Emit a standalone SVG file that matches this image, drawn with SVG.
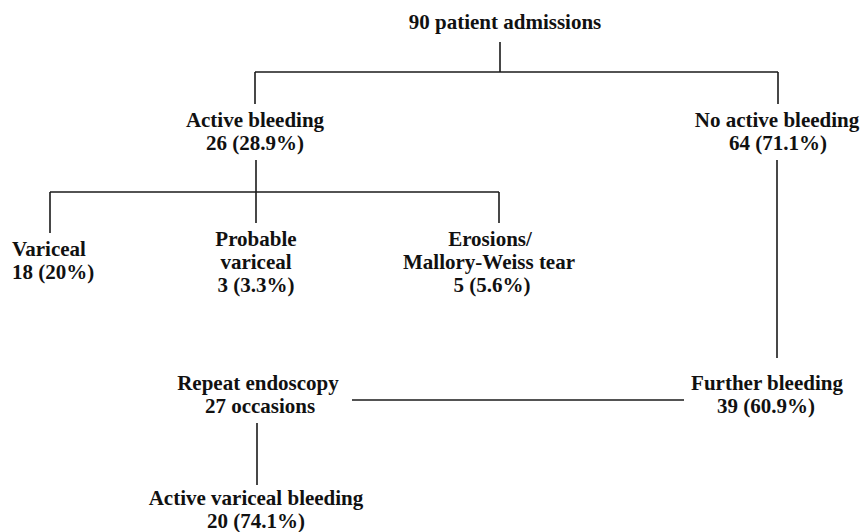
<svg xmlns="http://www.w3.org/2000/svg" width="865" height="532" viewBox="0 0 865 532">
<style>
text{font-family:"Liberation Serif","Times New Roman",serif;font-size:21px;font-weight:bold;fill:#111;text-anchor:middle}
.l{text-anchor:start}
#connectors line{stroke:#1a1a1a;stroke-width:1.6;fill:none}
</style>
<rect width="865" height="532" fill="#fff"/>
<g id="connectors">
<line x1="500" y1="42" x2="500" y2="72"/>
<line x1="255" y1="72" x2="778" y2="72"/>
<line x1="255" y1="72" x2="255" y2="104"/>
<line x1="778" y1="72" x2="778" y2="104"/>
<line x1="256" y1="160" x2="256" y2="223"/>
<line x1="50" y1="192" x2="499" y2="192"/>
<line x1="50" y1="192" x2="50" y2="233"/>
<line x1="499" y1="192" x2="499" y2="223"/>
<line x1="777" y1="160" x2="777" y2="358"/>
<line x1="352" y1="400" x2="684" y2="400"/>
<line x1="257" y1="423" x2="257" y2="485"/>
</g>
<g id="n-admissions"><text x="505" y="29">90 patient admissions</text></g>
<g id="n-active"><text x="255" y="127">Active bleeding</text><text x="255" y="150">26 (28.9%)</text></g>
<g id="n-noactive"><text x="777" y="127">No active bleeding</text><text x="778" y="150">64 (71.1%)</text></g>
<g id="n-variceal"><text class="l" x="12" y="256">Variceal</text><text class="l" x="12" y="279">18 (20%)</text></g>
<g id="n-probable"><text x="256" y="246">Probable</text><text x="256" y="269">variceal</text><text x="256" y="292">3 (3.3%)</text></g>
<g id="n-erosions"><text x="490" y="246">Erosions/</text><text x="489" y="269">Mallory-Weiss tear</text><text x="492" y="292">5 (5.6%)</text></g>
<g id="n-repeat"><text x="258" y="390">Repeat endoscopy</text><text x="260" y="413">27 occasions</text></g>
<g id="n-further"><text x="767" y="390">Further bleeding</text><text x="766" y="413">39 (60.9%)</text></g>
<g id="n-activevar"><text x="256" y="505">Active variceal bleeding</text><text x="256" y="528">20 (74.1%)</text></g>
</svg>
